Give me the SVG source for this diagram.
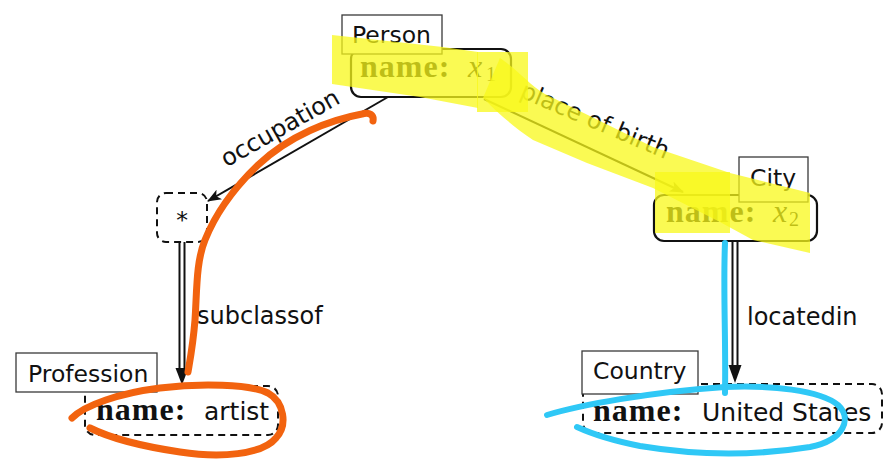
<svg xmlns="http://www.w3.org/2000/svg" width="884" height="462" viewBox="0 0 884 462">
<style>
.lbl{font-family:"DejaVu Sans","Open Sans",sans-serif;font-size:23.5px;fill:#111}
.el{font-family:"DejaVu Sans","Open Sans",sans-serif;font-size:24px;fill:#111}
.sv{font-family:"DejaVu Sans","Open Sans",sans-serif;font-size:25px;fill:#111}
.nm{font-family:"Liberation Serif",serif;font-weight:bold;font-size:32px;letter-spacing:1px;fill:#111}
.var{font-family:"Liberation Serif",serif;font-style:italic;font-size:32px;fill:#111}
.sub{font-family:"Liberation Serif",serif;font-size:20px;fill:#111}
.lbox{fill:#fff;stroke:#3a3a3a;stroke-width:1.3}
.nbox{fill:#fff;stroke:#111;stroke-width:2.2}
.dbox{fill:#fff;stroke:#111;stroke-width:2;stroke-dasharray:7 5}
.edge{fill:none;stroke:#111;stroke-width:2}
.hl{fill:#f8f81a;opacity:0.75}
.pen{fill:none;stroke-linecap:round;stroke-linejoin:round}
</style>
<defs>
<marker id="arr" viewBox="0 0 14 11" refX="13" refY="5.5" markerWidth="14" markerHeight="11" markerUnits="userSpaceOnUse" orient="auto">
<path d="M0,0 L14,5.5 L0,11 L3.5,5.5 Z" fill="#111"/>
</marker>
</defs>

<g id="connectors">
<g id="e-occupation">
<line class="edge" x1="388" y1="97" x2="208" y2="201" marker-end="url(#arr)"/>
<text class="el" transform="translate(284,135) rotate(-29.5)" text-anchor="middle">occupation</text>
</g>
<g id="e-placeofbirth">
<line class="edge" x1="484" y1="99" x2="683" y2="192" marker-end="url(#arr)"/>
<text class="el" transform="translate(592,128) rotate(23)" text-anchor="middle">place of birth</text>
</g>
<g id="e-subclassof">
<line class="edge" x1="179.5" y1="242" x2="179.5" y2="372"/>
<line class="edge" x1="184.5" y1="242" x2="184.5" y2="372"/>
<path d="M175.5,368 L188.5,368 L182,385 Z" fill="#111"/>
<text class="el" x="197" y="324">subclassof</text>
</g>
<g id="e-locatedin">
<line class="edge" x1="732.5" y1="241" x2="732.5" y2="369"/>
<line class="edge" x1="737.5" y1="241" x2="737.5" y2="369"/>
<path d="M728.5,365 L741.5,365 L735,383 Z" fill="#111"/>
<text class="el" x="747" y="325">locatedin</text>
</g>
</g>

<g id="n-person">
<rect class="nbox" x="351" y="49" width="160" height="48" rx="10"/>
<rect class="lbox" x="342" y="15" width="100" height="39"/>
<text class="lbl" x="352" y="43">Person</text>
<text class="nm" x="360" y="77">name:</text>
<text class="var" x="468" y="77">x</text>
<text class="sub" x="486" y="81">1</text>
</g>

<g id="n-star">
<rect class="dbox" x="157" y="193" width="50" height="49" rx="9"/>
<text class="lbl" x="182" y="228" text-anchor="middle">*</text>
</g>

<g id="n-city">
<rect class="nbox" x="654" y="195" width="163" height="46" rx="10"/>
<rect class="lbox" x="739" y="157" width="69" height="45"/>
<text class="lbl" x="750" y="186">City</text>
<text class="nm" x="666" y="222">name:</text>
<text class="var" x="773" y="222">x</text>
<text class="sub" x="789" y="226">2</text>
</g>

<g id="n-profession">
<rect class="dbox" x="85" y="386" width="193" height="49" rx="10"/>
<rect class="lbox" x="16" y="353" width="141" height="39"/>
<text class="lbl" x="28" y="382">Profession</text>
<text class="nm" x="96" y="420">name:</text>
<text class="sv" x="204" y="420">artist</text>
</g>

<g id="n-country">
<rect class="dbox" x="583" y="384" width="299" height="49" rx="10"/>
<rect class="lbox" x="582" y="351" width="116" height="43"/>
<text class="lbl" x="593" y="379">Country</text>
<text class="nm" x="593" y="421">name:</text>
<text class="sv" x="702" y="421">United States</text>
</g>

<g id="annotations">
<path class="hl" d="M332,35 L443,47 L478,52 L478,108 L420,97 L332,84 Z"/>
<rect class="hl" x="477" y="52" width="51" height="60"/>
<path class="hl" d="M500,58 C518,70 528,84 545,94 L653,147 L730,173 L810,193 L810,253 L753,240 L720,222 L653,188 L587,163 L533,140 C515,128 500,115 483,98 Z"/>
<rect class="hl" x="655" y="172" width="75" height="61"/>
<path class="pen" stroke="#f2630f" stroke-width="7" d="M373,121 C374,115 370,112 362,114 C330,120 290,135 258,165 C232,190 215,215 205,240 C196,262 197,290 195,320 C193,345 190,360 188,372"/>
<path class="pen" stroke="#f2630f" stroke-width="7" d="M72,418 C85,405 120,393 160,388 C200,383 250,384 268,393 C284,402 288,425 276,438 C262,455 220,458 180,452 C140,446 110,438 90,428"/>
<path class="pen" stroke="#2fc8f6" stroke-width="6" d="M725,243 C723,290 726,340 725,393"/>
<path class="pen" stroke="#2fc8f6" stroke-width="6" d="M547,415 C580,405 650,392 725,387 C770,385 820,390 838,405 C852,418 845,440 810,447 C760,455 700,456 640,446 C610,440 590,433 577,427"/>
</g>
</svg>
